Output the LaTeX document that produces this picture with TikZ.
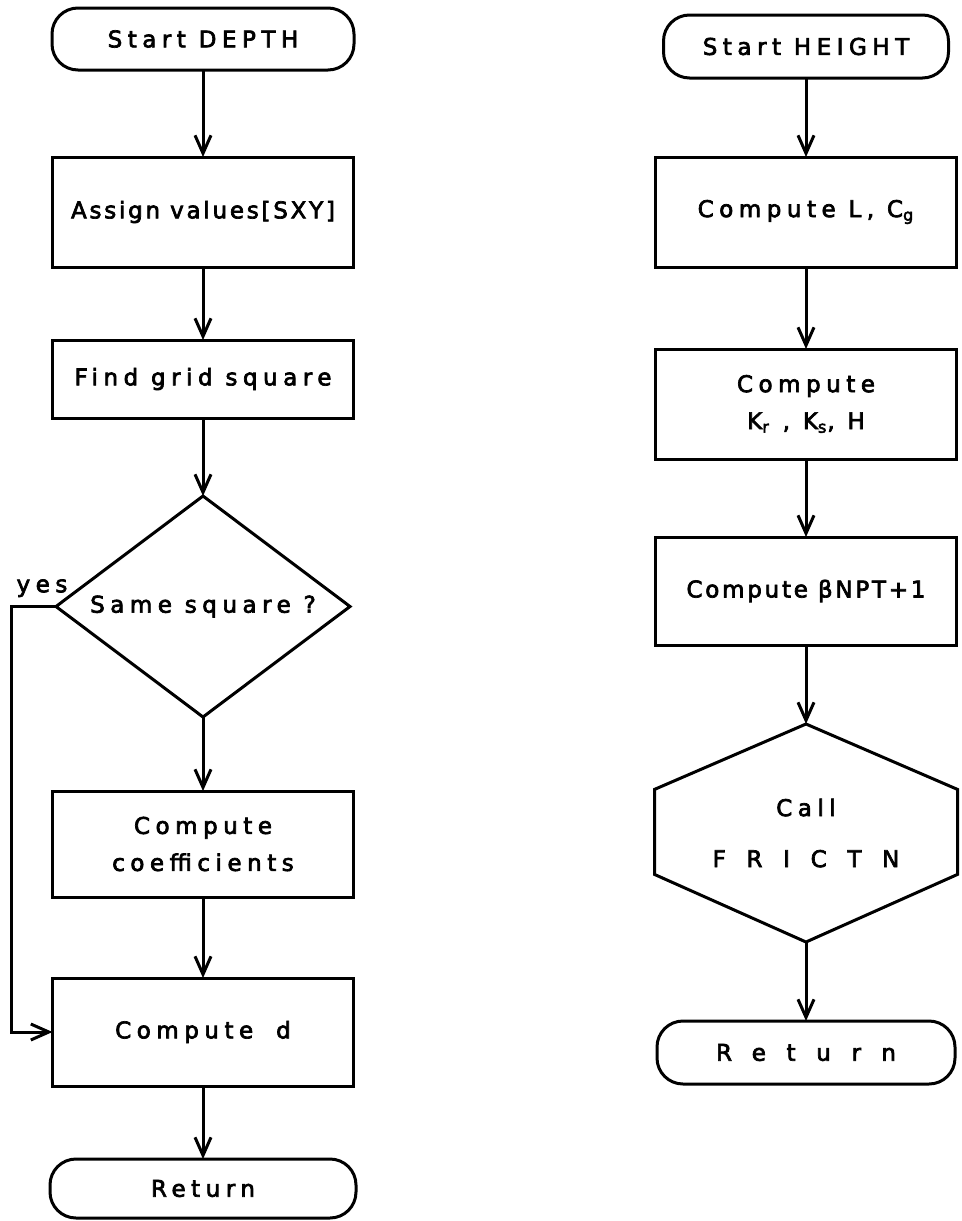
\documentclass[tikz,border=0pt]{standalone}
\usepackage{fontspec}
\setmainfont{DejaVu Sans}[LetterSpace=24,FakeBold=3]
\newfontfamily\tightfont{DejaVu Sans}[LetterSpace=12,FakeBold=3]
\newfontfamily\widefont{DejaVu Sans}[LetterSpace=90,FakeBold=3]
\usepackage{tikz}
\usetikzlibrary{arrows.meta,positioning,shapes.geometric,calc}
\newcommand{\chartfont}{\fontsize{11.5}{18.5}\selectfont}
\tikzset{
  term/.style={draw,rounded corners=13pt,minimum width=151pt,minimum height=31pt,
    inner sep=2pt,outer sep=0pt,font=\chartfont},
  block/.style={draw,minimum width=150.5pt,minimum height=54pt,align=center,
    inner sep=2pt,outer sep=0pt,font=\chartfont},
  decision/.style={draw,diamond,aspect=1.33,minimum width=147pt,
    minimum height=110.5pt,inner sep=-5pt,outer sep=0pt,font=\chartfont},
  callbox/.style={minimum width=151.5pt,minimum height=109pt,align=center,
    outer sep=0pt,font=\chartfont},
  flow/.style={-{Straight Barb[length=9pt,width=8pt]}},
  lbl/.style={font=\chartfont,inner sep=1pt}
}

\begin{document}
\begin{tikzpicture}[x=0.5pt,y=-0.5pt,node distance=39pt,line width=1.5pt]
  \useasboundingbox (0,0) rectangle (962,1221);
  % DEPTH
  \node[term] (sdepth) at (203,39) {Start DEPTH};
  \node[block,below=43.5pt of sdepth,minimum height=55pt] (assign) {{\tightfont Assign values[SXY]}};
  \node[block,below=36.5pt of assign,minimum height=39pt] (grid) {Find grid square};
  \node[decision,below=of grid] (same) {Same square ?};
  \node[block,below=37pt of same,minimum height=53pt] (coeff) {Compute\\coefficients};
  \node[block,below=40.5pt of coeff] (cd) {Compute\quad d};
  \node[term,below=36.5pt of cd,minimum width=153pt,minimum height=29.5pt] (rdepth) {Return};
  \node[lbl,anchor=south] (yes) at ([xshift=-7pt,yshift=3pt]same.west) {yes};
  \draw[flow] (sdepth) -- (assign); \draw[flow] (assign) -- (grid); \draw[flow] (grid) -- (same);
  \draw[flow] (same) -- (coeff); \draw[flow] (coeff) -- (cd); \draw[flow] (cd) -- (rdepth);
  \draw[flow] (same.west) -- ([xshift=-22.5pt]same.west) |- (cd.west);
  % HEIGHT
  \node[term,minimum width=142.5pt,minimum height=31.5pt] (sheight) at (806,46.5) {Start HEIGHT};
  \node[block,below=39.5pt of sheight,minimum height=55pt] (lcg) {Compute L, C\textsubscript{g}};
  \node[block,below=41pt of lcg,minimum height=55pt] (kks) {Compute\\K\textsubscript{r} , K\textsubscript{s}, H};
  \node[block,below=of kks] (beta) {{\tightfont Compute βNPT+1}};
  \node[callbox,below=39.5pt of beta] (call) {Call\\[7pt]{\widefont FRICTN}};
  \draw (call.north) -- ($(call.north east)!.3!(call.south east)$)
    -- ($(call.north east)!.69!(call.south east)$) -- (call.south)
    -- ($(call.north west)!.69!(call.south west)$)
    -- ($(call.north west)!.3!(call.south west)$) -- cycle;
  \node[term,below=39.5pt of call,minimum width=149pt,minimum height=31.5pt,
    font=\chartfont\widefont] (rheight) {Return};
  \draw[flow] (sheight) -- (lcg); \draw[flow] (lcg) -- (kks); \draw[flow] (kks) -- (beta);
  \draw[flow] (beta) -- (call.north); \draw[flow] (call.south) -- (rheight);
\end{tikzpicture}
\end{document}
